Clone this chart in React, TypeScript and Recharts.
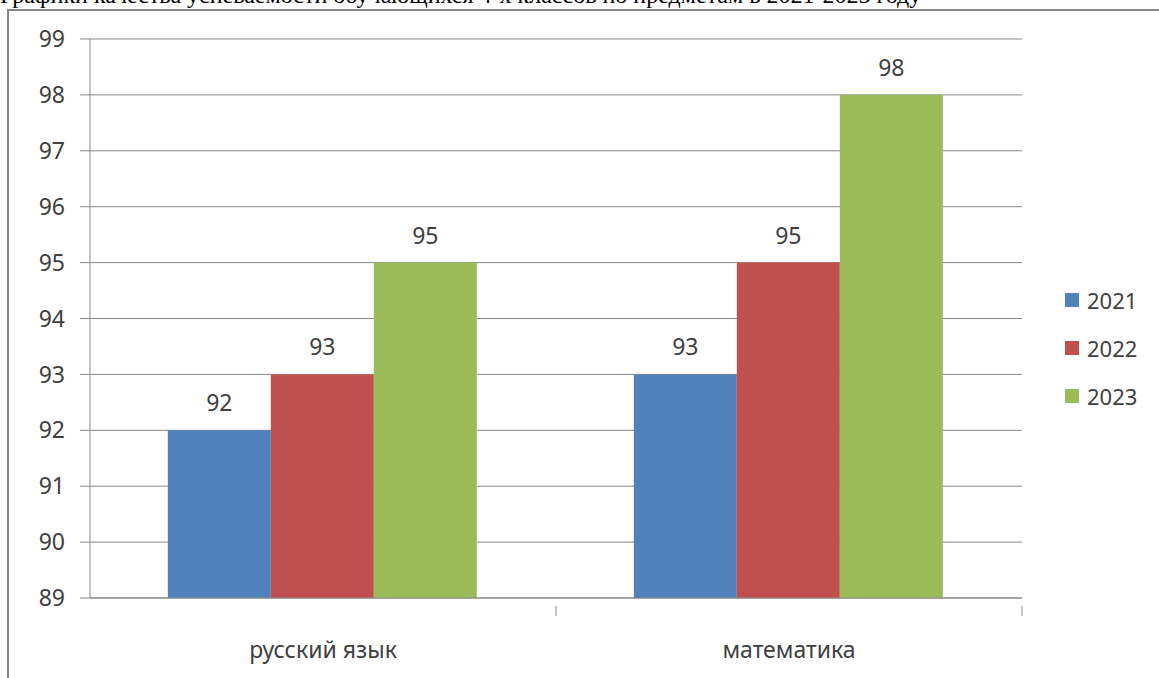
import { BarChart, Bar, XAxis, YAxis, CartesianGrid, LabelList } from 'recharts';

const subjects = ['русский язык', 'математика'];
const years = ['2021', '2022', '2023'];
const scores2021 = [92, 93];
const scores2022 = [93, 95];
const scores2023 = [95, 98];
const yTicks = [89, 90, 91, 92, 93, 94, 95, 96, 97, 98, 99];
const colors = ['#4F81BD', '#C0504D', '#9BBB59'];

const data = subjects.map((s, i) => ({
  subject: s,
  '2021': scores2021[i],
  '2022': scores2022[i],
  '2023': scores2023[i],
}));

const W = 1159;
const H = 678;
const M = { top: 39, right: 137, left: 10, bottom: 30 };
const Y_W = 80;
const X_H = 50;
const halfBand = (W - M.left - Y_W - M.right) / subjects.length / 2;

const font = '"Noto Sans", sans-serif';
const textColor = '#404040';
const lineColor = '#878787';

function SubjectTick(props: any) {
  const { x, y, payload } = props;
  return (
    <g>
      <line x1={x + halfBand} y1={y} x2={x + halfBand} y2={y + 10} stroke={lineColor} />
      <text x={x} y={y + 52} textAnchor="middle" fill={textColor} fontSize={23} fontFamily={font}>
        {payload.value}
      </text>
    </g>
  );
}

function YearLegend() {
  return (
    <div style={{ position: 'absolute', left: 1065, top: 276, fontFamily: font, color: textColor, fontSize: 22 }}>
      {years.map((y, i) => (
        <div key={y} style={{ display: 'flex', alignItems: 'center', height: 48 }}>
          <span style={{ width: 14, height: 14, background: colors[i], marginRight: 8 }} />
          <span>{y}</span>
        </div>
      ))}
    </div>
  );
}

export default function App() {
  return (
    <div style={{ position: 'fixed', left: 0, top: 0, width: W, height: H, background: '#fff', overflow: 'hidden' }}>
      <div
        style={{
          position: 'absolute',
          left: 0,
          top: -17,
          fontFamily: '"Liberation Serif", serif',
          fontSize: 24,
          lineHeight: '24px',
          whiteSpace: 'nowrap',
          color: '#000',
        }}
      >
        Графики качества успеваемости обучающихся 4-х классов по предметам в 2021-2023 году
      </div>
      <div
        style={{
          position: 'absolute',
          left: 7,
          top: 9,
          width: W,
          height: H,
          border: `2px solid ${lineColor}`,
          background: '#fff',
        }}
      />
      <div style={{ position: 'absolute', left: 0, top: 0 }}>
        <BarChart width={W} height={H} data={data} margin={M} barCategoryGap="16.7%" barGap={0}>
          <CartesianGrid horizontal vertical={false} stroke={lineColor} />
          <XAxis
            dataKey="subject"
            height={X_H}
            stroke={lineColor}
            tickLine={false}
            tick={<SubjectTick />}
            interval={0}
          />
          <YAxis
            domain={[89, 99]}
            ticks={yTicks}
            interval={0}
            width={Y_W}
            stroke={lineColor}
            tickSize={10}
            tickMargin={15}
            tick={{ fill: textColor, fontSize: 23, fontFamily: font }}
            allowDataOverflow
          />
          {years.map((y, i) => (
            <Bar key={y} dataKey={y} fill={colors[i]} isAnimationActive={false}>
              <LabelList
                dataKey={y}
                position="top"
                offset={19}
                fill={textColor}
                fontSize={23}
                fontFamily={font}
              />
            </Bar>
          ))}
        </BarChart>
      </div>
      <YearLegend />
    </div>
  );
}
